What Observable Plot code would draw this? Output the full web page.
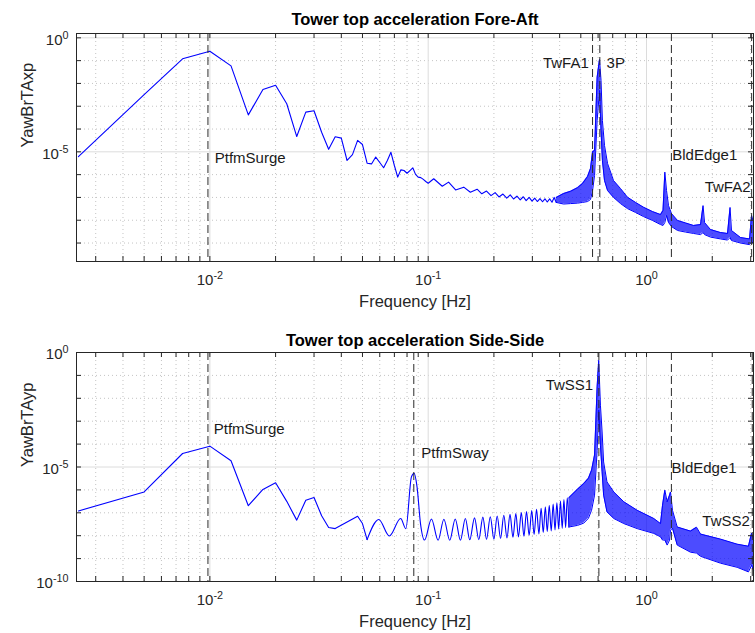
<!DOCTYPE html>
<html><head><meta charset="utf-8">
<script src="https://cdn.jsdelivr.net/npm/d3@7"></script>
<script src="https://cdn.jsdelivr.net/npm/@observablehq/plot@0.6"></script>
<style>
html,body{margin:0;padding:0;background:#fff;}
#chart svg{display:block;}
</style></head><body><div id="chart"></div>
<script>
// ---------- Data (PSD given as log10) ----------
// Top panel: Fore-Aft
const topLineF = [0.0025,0.005,0.0075,0.01,0.0125,0.015,0.0175,0.02,0.0225,0.025,0.0275,0.03,0.0325,0.035,0.0375,0.04,0.0425,0.045,0.0475,0.05,0.0525,0.055,0.0575,0.06,0.0625,0.065,0.0675,0.07,0.0725,0.075,0.0775,0.08,0.0825,0.085,0.0875,0.09,0.0925,0.095,0.0975,0.1,
  0.106,0.116,0.124,0.1335,0.1455,0.156,0.1675,0.176,0.185,0.194,0.2025,0.211,0.22,0.229,0.2375,0.246,0.255,0.264,0.2725,0.281,0.29,0.299,0.3075,0.316,0.325,0.334,0.3425,0.351,0.36,0.369,0.3775,0.386];
const topLineLog = [-5.21,-2.49,-0.92,-0.59,-1.23,-3.38,-2.27,-2.08,-2.89,-4.33,-3.26,-3.20,-4.14,-4.89,-4.34,-4.40,-5.38,-5.12,-4.50,-4.68,-5.50,-5.53,-5.23,-5.47,-5.70,-5.38,-5.02,-5.60,-6.11,-5.79,-5.82,-5.94,-5.82,-5.70,-5.99,-6.11,-6.13,-6.21,-6.30,-6.38,
  -6.18,-6.51,-6.33,-6.67,-6.55,-6.77,-6.64,-6.84,-6.72,-6.92,-6.79,-6.98,-6.85,-7.03,-6.89,-7.07,-6.94,-7.11,-6.97,-7.14,-7.00,-7.16,-7.03,-7.18,-7.05,-7.19,-7.06,-7.20,-7.06,-7.21,-7.00,-7.22];
const topBandF = [0.386,0.417,0.449,0.483,0.509,0.537,0.554,0.566,0.578,0.594,0.609,0.619,0.628,0.642,0.663,0.706,0.760,0.818,0.891,0.969,1.065,1.159,1.190,1.213,1.235,1.261,1.302,1.387,1.509,1.642,1.768,1.815,1.844,1.964,2.182,2.350,2.413,2.450,2.696,2.964,3.027,3.09];
const topBandHiLog = [-7.0,-6.83,-6.73,-6.57,-6.39,-6.08,-5.73,-4.99,-4.94,-1.73,-0.95,-1.87,-3.63,-4.72,-5.51,-6.26,-6.61,-6.99,-7.22,-7.43,-7.62,-7.75,-7.57,-5.89,-6.70,-7.36,-7.71,-8.01,-8.12,-8.23,-8.19,-7.36,-8.10,-8.41,-8.54,-8.58,-7.44,-8.45,-8.76,-8.82,-7.79,-8.10];
const topBandLoLog = [-7.22,-7.29,-7.27,-7.25,-7.22,-7.18,-7.09,-6.70,-6.04,-3.63,-2.31,-4.07,-5.38,-6.26,-6.70,-7.00,-7.27,-7.49,-7.66,-7.84,-8.01,-8.19,-8.23,-8.10,-7.79,-8.10,-8.28,-8.45,-8.52,-8.58,-8.63,-8.54,-8.63,-8.74,-8.82,-8.87,-8.76,-8.89,-9.00,-9.07,-8.93,-9.02];
const topModeNames = ["PtfmSurge","TwFA1","3P","BldEdge1","TwFA2"];
const topModeF = [0.0098,0.566,0.611,1.30,3.03];
const topLabelF = [0.01053,0.544,0.656,1.311,2.995];
const topLabelLog = [-5.29,-1.105,-1.105,-5.16,-6.54];
const topLabelAnchor = ["start","end","start","start","end"];

// Bottom panel: Side-Side
const botLineF = [0.0025,0.005,0.0075,0.01,0.0125,0.015,0.0175,0.02,0.0225,0.025,0.0275,0.03,0.0325,0.035,0.0375,0.0475,0.05,0.0525];
const botLineLog = [-6.92,-6.09,-4.41,-4.09,-4.73,-6.69,-5.98,-5.69,-6.50,-7.32,-6.45,-6.33,-7.13,-7.64,-7.69,-7.15,-7.47,-8.17];
const botRippleF = [0.0525,0.0594,0.0664,0.0748,0.079,0.0838,0.0862,0.0889,0.0922,0.0962,
  0.1035,0.111,0.118,0.1255,0.133,0.1405,0.148,0.155,0.163,0.1705,0.178,0.185,0.1925,0.2,0.207,0.2145,0.222,0.2295,0.237,0.2445,0.252,0.259,0.267,0.2745,0.282,0.29,0.298,0.3055,0.3135,0.3215,0.329,0.3365,0.344,0.351,0.3585,0.366,0.3735,0.381,0.3885,0.396,0.4035,0.411,0.4185,0.426,0.4335,0.441];
const botRippleLog = [-8.17,-7.29,-8.01,-7.25,-7.69,-5.43,-5.28,-5.87,-7.47,-8.19,
  -7.27,-8.20,-7.28,-8.20,-7.27,-8.20,-7.25,-8.18,-7.22,-8.17,-7.19,-8.16,-7.17,-8.15,-7.14,-8.12,-7.11,-8.10,-7.07,-8.07,-7.03,-8.05,-6.99,-8.02,-6.95,-7.98,-6.90,-7.95,-6.85,-7.92,-6.80,-7.86,-6.74,-7.82,-6.68,-7.79,-6.62,-7.75,-6.56,-7.71,-6.49,-7.68,-6.42,-7.65,-6.34,-7.62];
const botBandF = [0.441,0.483,0.516,0.542,0.56,0.578,0.594,0.604,0.615,0.626,0.636,0.659,0.708,0.787,0.906,1.080,1.159,1.184,1.213,1.243,1.275,1.288,1.315,1.382,1.590,1.694,1.768,2.182,2.601,2.93,3.027,3.09];
const botBandHiLog = [-6.34,-5.97,-5.72,-5.49,-5.14,-4.48,-1.50,-0.34,-2.30,-3.47,-4.78,-5.65,-6.09,-6.52,-6.89,-7.25,-7.47,-6.67,-6.01,-6.52,-6.23,-6.09,-6.89,-7.62,-7.80,-7.63,-7.93,-8.15,-8.37,-8.46,-7.89,-8.19];
const botBandLoLog = [-7.62,-7.55,-7.45,-7.24,-6.89,-6.23,-4.27,-2.52,-4.05,-5.21,-6.23,-6.96,-7.25,-7.47,-7.69,-7.90,-8.05,-8.19,-8.19,-8.41,-8.19,-7.76,-7.67,-8.41,-8.72,-8.76,-8.90,-9.20,-9.38,-9.58,-9.29,-9.51];
const botModeNames = ["PtfmSurge","PtfmSway","TwSS1","BldEdge1","TwSS2"];
const botModeF = [0.0098,0.0859,0.605,1.30,3.05];
const botLabelF = [0.01042,0.0929,0.570,1.302,2.973];
const botLabelLog = [-3.35,-4.40,-1.44,-5.07,-7.37];
const botLabelAnchor = ["start","start","end","start","end"];

// Axis ticks (exponents of 10)
const xMajorExp = [-2,-1,0];
const topYMajorExp = [0,-5];
const botYMajorExp = [0,-5,-10];

// ---------- Rendering ----------
const FONT = "'Liberation Sans', Arial, Helvetica, sans-serif";
const BLUE = "#0000ff";
const W = 755, ML = 76, MR = 2;
const xDomain = [0.00245, 3.09];
const xMajor = xMajorExp.map(e => 10 ** e);
const xMinor = [];
for (let e = -3; e <= 0; e++) for (let m = 2; m <= 9; m++) {
  const v = m * 10 ** e; if (v >= xDomain[0] && v <= xDomain[1]) xMinor.push(v);
}
const pts = (F, L) => F.map((f, i) => ({f, v: 10 ** L[i]}));
const band = (F, H, L) => F.map((f, i) => ({f, hi: 10 ** H[i], lo: 10 ** L[i]}));
const labs = (N, F, L, A) => N.map((n, i) => ({name: n, f: F[i], v: 10 ** L[i], anchor: A[i]}));

function panel(cfg) {
  const {title, ylabel, yDomain, yMajorExp, lineData, rippleData, bandData, modes, labels, height, marginTop, marginBottom, titleDy} = cfg;
  const plotH = height - marginTop - marginBottom;
  const plotW = W - ML - MR;
  const tl = 5;
  const fy = Math.pow(yDomain[1] / yDomain[0], tl / plotH);
  const fx = Math.pow(xDomain[1] / xDomain[0], tl / plotW);
  const yLo = Math.log10(yDomain[0]), yHi = Math.log10(yDomain[1]);
  const yMajor = yMajorExp.map(e => 10 ** e);
  const yMinor = [];
  for (let e = Math.ceil(yLo); e <= Math.floor(yHi); e++) if (!yMajorExp.includes(e)) yMinor.push(10 ** e);
  const yAll = yMajor.concat(yMinor).filter(v => v >= yDomain[0] && v <= yDomain[1]);
  const xAll = xMajor.concat(xMinor);
  const marks = [
    Plot.ruleX(xMinor, {x: d => d, stroke: "#c4c4c4", strokeDasharray: "1,3"}),
    Plot.ruleY(yMinor, {y: d => d, stroke: "#c4c4c4", strokeDasharray: "1,3"}),
    Plot.ruleX(xMajor, {x: d => d, stroke: "#dcdcdc"}),
    Plot.ruleY(yMajor.filter(v => v > yDomain[0] && v < yDomain[1]), {y: d => d, stroke: "#dcdcdc"}),
    Plot.areaY(bandData, {x: "f", y1: "lo", y2: "hi", fill: BLUE, fillOpacity: 0.7}),
    Plot.line(bandData, {x: "f", y: "hi", stroke: BLUE, strokeWidth: 1}),
    Plot.line(bandData, {x: "f", y: "lo", stroke: BLUE, strokeWidth: 1}),
    Plot.line(lineData, {x: "f", y: "v", stroke: BLUE, strokeWidth: 1.1}),
  ];
  if (rippleData) marks.push(Plot.line(rippleData, {x: "f", y: "v", stroke: BLUE, strokeWidth: 1.1, curve: "monotone-x"}));
  marks.push(
    Plot.ruleX(modes, {x: d => d, stroke: "#2a2a2a", strokeDasharray: "8,4", strokeWidth: 1}),
    Plot.frame({stroke: "#262626", strokeWidth: 1}),
    // inward tick marks on all four sides
    Plot.ruleX(xAll, {x: d => d, y1: () => yDomain[0], y2: () => yDomain[0] * fy, stroke: "#262626"}),
    Plot.ruleX(xAll, {x: d => d, y1: () => yDomain[1], y2: () => yDomain[1] / fy, stroke: "#262626"}),
    Plot.ruleY(yAll, {y: d => d, x1: () => xDomain[0], x2: () => xDomain[0] * fx, stroke: "#262626"}),
    Plot.ruleY(yAll, {y: d => d, x1: () => xDomain[1], x2: () => xDomain[1] / fx, stroke: "#262626"}),
    // tick labels
    Plot.text(xMajor, {x: d => d, frameAnchor: "bottom", lineAnchor: "top", dy: 13, text: d => "10^" + Math.round(Math.log10(d)), fontSize: 15, fill: "#262626"}),
    Plot.text(yMajor, {y: d => d, frameAnchor: "left", lineAnchor: "middle", textAnchor: "end", dx: -8, dy: 2, text: d => "10^" + Math.round(Math.log10(d)), fontSize: 15, fill: "#262626"}),
    // axis labels and title
    Plot.text(["Frequency [Hz]"], {frameAnchor: "bottom", lineAnchor: "middle", dy: 40, text: d => d, fontSize: 16.5, fill: "#262626"}),
    Plot.text([ylabel], {frameAnchor: "left", lineAnchor: "middle", dx: -49, rotate: -90, text: d => d, fontSize: 16.5, fill: "#262626"}),
    Plot.text([title], {frameAnchor: "top", lineAnchor: "middle", dy: titleDy, text: d => d, fontSize: 16.5, fontWeight: "bold", fill: "#000"}),
    // mode annotations
    Plot.text(labels.filter(d => d.anchor === "start"), {x: "f", y: "v", text: "name", textAnchor: "start", lineAnchor: "middle", fontSize: 15, fill: "#1a1a1a"}),
    Plot.text(labels.filter(d => d.anchor === "end"), {x: "f", y: "v", text: "name", textAnchor: "end", lineAnchor: "middle", fontSize: 15, fill: "#1a1a1a"})
  );
  const svg = Plot.plot({
    width: W, height, marginLeft: ML, marginRight: MR, marginTop, marginBottom,
    style: {fontFamily: FONT, background: "#fff", overflow: "visible"},
    x: {type: "log", domain: xDomain, axis: null},
    y: {type: "log", domain: yDomain, axis: null},
    marks
  });
  // superscript exponents on "10^k" labels
  svg.querySelectorAll("text").forEach(t => {
    const m = /^10\^(-?\d+)$/.exec(t.textContent);
    if (!m) return;
    t.textContent = "10";
    const ts = document.createElementNS("http://www.w3.org/2000/svg", "tspan");
    ts.setAttribute("dy", "-0.55em");
    ts.setAttribute("font-size", "0.72em");
    ts.textContent = m[1];
    t.appendChild(ts);
  });
  return svg;
}

const chart = document.getElementById("chart");
chart.appendChild(panel({
  title: "Tower top acceleration Fore-Aft", ylabel: "YawBrTAxp",
  yDomain: [10 ** -9.81, 10 ** 0.19], yMajorExp: topYMajorExp,
  lineData: pts(topLineF, topLineLog), rippleData: null,
  bandData: band(topBandF, topBandHiLog, topBandLoLog),
  modes: topModeF, labels: labs(topModeNames, topLabelF, topLabelLog, topLabelAnchor),
  height: 316, marginTop: 33, marginBottom: 55, titleDy: -14
}));
chart.appendChild(panel({
  title: "Tower top acceleration Side-Side", ylabel: "YawBrTAyp",
  yDomain: [1e-10, 1], yMajorExp: botYMajorExp,
  lineData: pts(botLineF, botLineLog), rippleData: pts(botRippleF, botRippleLog),
  bandData: band(botBandF, botBandHiLog, botBandLoLog),
  modes: botModeF, labels: labs(botModeNames, botLabelF, botLabelLog, botLabelAnchor),
  height: 317, marginTop: 36, marginBottom: 52, titleDy: -12
}));
</script></body></html>
